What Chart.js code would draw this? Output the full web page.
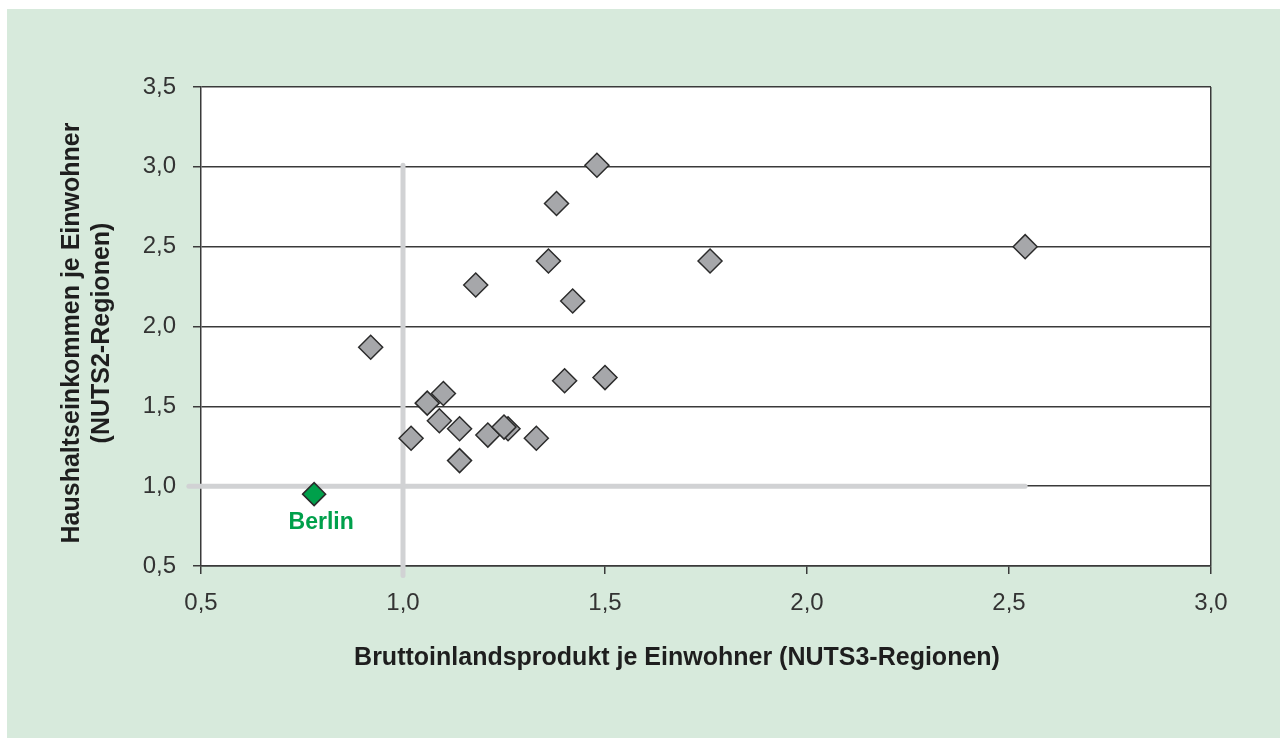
<!DOCTYPE html>
<html lang="de">
<head>
<meta charset="UTF-8">
<title>Haushaltseinkommen und BIP je Einwohner</title>
<script src="https://cdn.jsdelivr.net/npm/chart.js"></script>
<style>
    body { margin: 0; background: #fff; }
    .panel {
        position: absolute;
        left: 7px; top: 9px;
        width: 1273px; height: 729px;
        background: #d7eadc;
    }
    .chart-box { position: absolute; left: 0; top: 0; width: 1280px; height: 738px; }
</style>
</head>
<body>
<div class="panel"></div>
<div class="chart-box"><canvas id="chart" width="1280" height="738"></canvas></div>

<script>
    // BIP je Einwohner (x) und Haushaltseinkommen je Einwohner (y), Regionen
    const gdpPerHead = [0.92, 1.02, 1.06, 1.09, 1.10, 1.14, 1.14, 1.18, 1.21, 1.26, 1.25, 1.33, 1.36, 1.38, 1.40, 1.42, 1.48, 1.50, 1.76, 2.54];
    const incomePerHead = [1.87, 1.30, 1.52, 1.41, 1.58, 1.36, 1.16, 2.26, 1.32, 1.36, 1.37, 1.30, 2.41, 2.77, 1.66, 2.16, 3.01, 1.68, 2.41, 2.50];

    const berlinGdp = [0.78];
    const berlinIncome = [0.95];
    const berlinLabel = 'Berlin';

    // graue Bezugslinien bei 1,0
    const refHorizX = [0.47, 2.54];
    const refHorizY = [1.0, 1.0];
    const refVertX = [1.0, 1.0];
    const refVertY = [0.44, 3.01];

    const xTicks = [0.5, 1.0, 1.5, 2.0, 2.5, 3.0];
    const yTicks = [0.5, 1.0, 1.5, 2.0, 2.5, 3.0, 3.5];

    const xTitle = 'Bruttoinlandsprodukt je Einwohner (NUTS3-Regionen)';
    const yTitle = ['Haushaltseinkommen je Einwohner', '(NUTS2-Regionen)'];

    const toPoints = (xs, ys) => xs.map((x, i) => ({ x: x, y: ys[i] }));
    const fmt = v => v.toFixed(1).replace('.', ',');

    const gridDark = '#3a3a3a';
    const tickFont = { family: 'Liberation Sans, Arial, sans-serif', size: 24 };

    const decorPlugin = {
        id: 'decor',
        beforeDraw(chart) {
            const { ctx, chartArea } = chart;
            ctx.save();
            ctx.fillStyle = '#ffffff';
            ctx.fillRect(chartArea.left, chartArea.top, chartArea.right - chartArea.left, chartArea.bottom - chartArea.top);
            ctx.restore();
        },
        afterDraw(chart) {
            const { ctx } = chart;
            const xs = chart.scales.x, ys = chart.scales.y;
            ctx.save();
            ctx.fillStyle = '#1e1e1e';
            ctx.font = 'bold 25px Liberation Sans, Arial, sans-serif';
            ctx.textAlign = 'center';
            ctx.textBaseline = 'middle';
            ctx.fillText(xTitle, 677, 658);

            ctx.translate(72, 333);
            ctx.rotate(-Math.PI / 2);
            ctx.fillText(yTitle[0], 0, 0);
            ctx.fillText(yTitle[1], 0, 30);
            ctx.restore();

            // Beschriftung Berlin
            ctx.save();
            ctx.fillStyle = '#00a04b';
            ctx.font = 'bold 23px Liberation Sans, Arial, sans-serif';
            ctx.textAlign = 'center';
            ctx.textBaseline = 'middle';
            ctx.fillText(berlinLabel, xs.getPixelForValue(berlinGdp[0]) + 7, ys.getPixelForValue(berlinIncome[0]) + 29);
            ctx.restore();
        }
    };

    new Chart(document.getElementById('chart'), {
        type: 'scatter',
        data: {
            datasets: [
                {
                    type: 'line',
                    data: toPoints(refHorizX, refHorizY),
                    borderColor: '#d1d2d4',
                    borderWidth: 5,
                    borderCapStyle: 'round',
                    pointRadius: 0,
                    clip: false,
                    order: 3
                },
                {
                    type: 'line',
                    data: toPoints(refVertX, refVertY),
                    borderColor: '#d1d2d4',
                    borderWidth: 5,
                    borderCapStyle: 'round',
                    pointRadius: 0,
                    clip: false,
                    order: 3
                },
                {
                    label: 'Regionen',
                    data: toPoints(gdpPerHead, incomePerHead),
                    pointStyle: 'rectRot',
                    pointRadius: 12,
                    pointHoverRadius: 12,
                    backgroundColor: '#a6a7aa',
                    borderColor: '#2b2b2b',
                    borderWidth: 1.5,
                    order: 2
                },
                {
                    label: 'Berlin',
                    data: toPoints(berlinGdp, berlinIncome),
                    pointStyle: 'rectRot',
                    pointRadius: 11.5,
                    pointHoverRadius: 11.5,
                    backgroundColor: '#00a04b',
                    borderColor: '#2b2b2b',
                    borderWidth: 1.5,
                    order: 1
                }
            ]
        },
        options: {
            responsive: false,
            animation: false,
            events: [],
            layout: { padding: { top: 87, right: 69, bottom: 0, left: 0 } },
            plugins: {
                legend: { display: false },
                tooltip: { enabled: false }
            },
            scales: {
                x: {
                    type: 'linear',
                    min: xTicks[0],
                    max: xTicks[xTicks.length - 1],
                    afterBuildTicks: s => { s.ticks = xTicks.map(v => ({ value: v })); },
                    afterFit: s => { s.height = 172; },
                    border: { display: true, color: gridDark, width: 1.5 },
                    grid: {
                        drawOnChartArea: true,
                        color: c => (c.tick && c.tick.value === 3.0) ? gridDark : 'rgba(0,0,0,0)',
                        tickColor: gridDark,
                        lineWidth: 1.5,
                        tickLength: 8
                    },
                    ticks: {
                        color: '#333333',
                        font: tickFont,
                        padding: 15,
                        maxRotation: 0,
                        callback: v => fmt(v)
                    }
                },
                y: {
                    type: 'linear',
                    min: yTicks[0],
                    max: yTicks[yTicks.length - 1],
                    afterBuildTicks: s => { s.ticks = yTicks.map(v => ({ value: v })); },
                    afterFit: s => { s.width = 201; },
                    border: { display: true, color: gridDark, width: 1.5 },
                    grid: {
                        color: gridDark,
                        tickColor: gridDark,
                        lineWidth: 1.5,
                        tickLength: 8
                    },
                    ticks: {
                        color: '#333333',
                        font: tickFont,
                        padding: 17,
                        callback: v => fmt(v)
                    }
                }
            }
        },
        plugins: [decorPlugin]
    });
</script>
</body>
</html>
